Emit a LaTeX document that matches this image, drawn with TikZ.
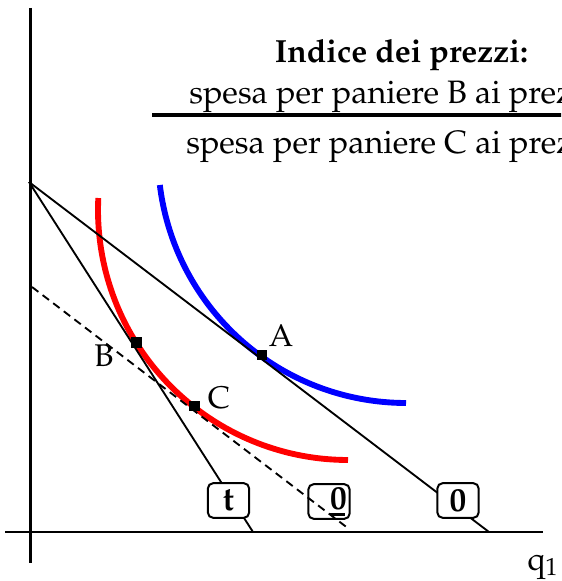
\documentclass[tikz,border=0pt]{standalone}
\usepackage[T1]{fontenc}
\usepackage{mathpazo}
\begin{document}
\begin{tikzpicture}[x=0.75pt,y=-0.75pt,
  axis/.style={line width=1.7pt},
  budget/.style={line width=1.4pt},
  icurve/.style={line width=4.4pt},
  mk/.style={rectangle,fill=black,minimum size=8pt,inner sep=0pt},
  lbl/.style={inner sep=0pt,font=\fontsize{23.5}{28}\selectfont},
  boxn/.style={draw,rounded corners=4pt,line width=1.5pt,minimum width=31pt,minimum height=26pt,inner sep=0pt,font=\fontsize{25}{25}\selectfont\bfseries},
  txt/.style={inner sep=0pt,font=\fontsize{24.3}{28}\selectfont}]
\useasboundingbox (0,0) rectangle (561,581);
\clip (0,0) rectangle (561,581);
% axes
\coordinate (Ytop) at (30.5,8);
\coordinate (Ybot) at (30.5,563);
\coordinate (Xl) at (5,532);
\coordinate (Xr) at (543,532);
\draw[axis] (Ytop) -- (Ybot);
\draw[axis] (Xl) -- (Xr);
% indifference curves
\draw[icurve,red] plot[domain=90:182.75,samples=80] ({348+250*cos(\x)},{210+250*sin(\x)});
\draw[icurve,blue] plot[domain=90:173.05,samples=80] ({406+248*cos(\x)},{155+248*sin(\x)});
% budget lines
\coordinate (O) at (29,182);
\coordinate (T) at (253,532);
\coordinate (Z) at (489,532);
\coordinate (D1) at (32,287);
\coordinate (D2) at (349,529);
\draw[budget] (O) -- (T);
\draw[budget] (O) -- (Z);
\draw[budget,dash pattern=on 6pt off 4pt] (D1) -- (D2);
% markers
\node[mk] (mA) at (262,355) {};
\node[mk] (mB) at (136.5,342.5) {};
\node[mk] (mC) at (194.5,406) {};
\node[lbl] (lA) at (281,336) {A};
\node[lbl] (lB) at (104,355.5) {B};
\node[lbl] (lC) at (219,397.5) {C};
% boxes
\node[boxn,fill=white] (bt) at (228.5,500.5) {t};
\node[boxn] (bu) at (329,501.5) {\hspace{14pt}\rlap{\rule[-5pt]{11pt}{2.4pt}}0};
\node[boxn,fill=white] (bz) at (458,500.5) {0};
% axis label
\node[txt,anchor=base west] (q) at (527,570) {q\textsubscript{1}};
% title
\node[txt,anchor=base,font=\fontsize{24}{28}\selectfont\bfseries] (title) at (401.5,63) {Indice dei prezzi:};
\node[txt,anchor=base west] (num) at (189,104) {spesa per paniere B ai prez};
\node[txt,anchor=base west] (den) at (186,153) {spesa per paniere C ai prez};
\coordinate (R1) at (152,115);
\coordinate (R2) at (565,115);
\draw[line width=3pt] (R1) -- (R2);
\end{tikzpicture}
\end{document}
